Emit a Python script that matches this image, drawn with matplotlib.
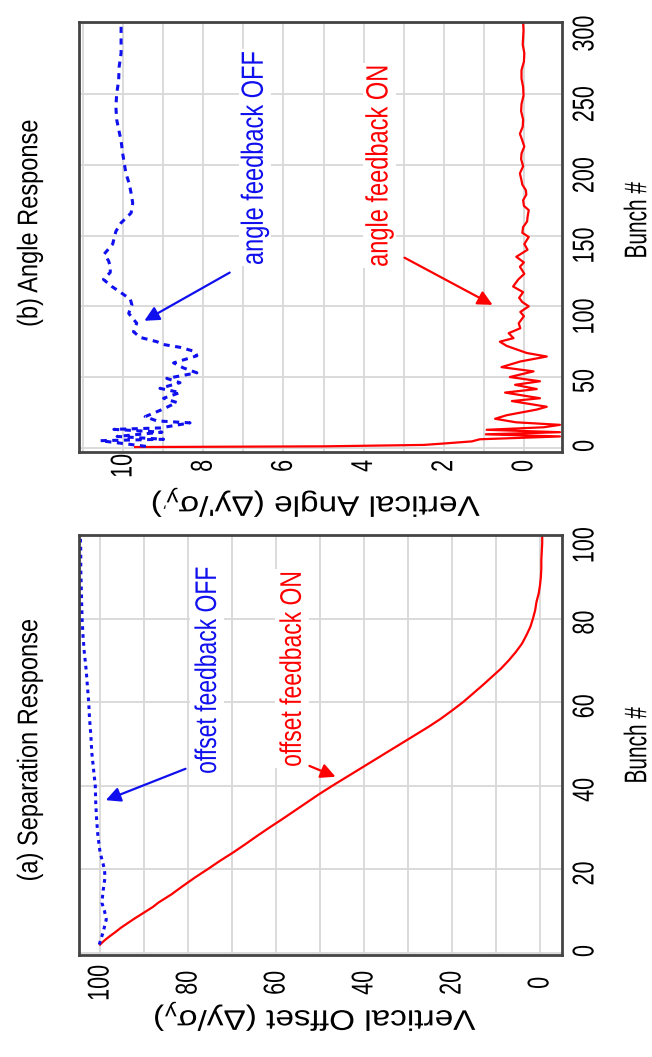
import matplotlib
matplotlib.use("Agg")
import matplotlib.pyplot as plt
from matplotlib.patheffects import AbstractPathEffect
from matplotlib.transforms import Affine2D

plt.rcParams['font.family'] = ['Liberation Sans', 'DejaVu Sans']

# (a) separation response: bunch number vs vertical offset
a_on_bunch = [2, 3, 4, 5, 6, 8, 10, 11, 12, 14, 16, 18, 20, 22, 24, 26, 28, 30, 32, 34,
              36, 38, 40, 42, 44, 46, 48, 50, 52, 54, 56, 58, 60, 62, 64, 66, 68, 70, 72,
              74, 76, 78, 80, 82, 84, 86, 88, 90, 92, 94, 96, 98, 100]
a_on_val = [100, 99, 97.8, 96.5, 95.3, 92.5, 89.5, 88, 86.8, 83.8, 81.2, 78.5, 75.6, 72.8,
            69.8, 67, 64.3, 61.5, 58.6, 55.8, 53, 50.2, 47.2, 44.1, 41, 37.9, 34.8, 31.7,
            28.6, 25.5, 22.6, 20, 17.5, 15.3, 13.1, 11, 8.9, 7.1, 5.5, 4.1, 3.1, 2.2, 1.6,
            1.1, 0.8, 0.3, 0, -0.2, -0.3, -0.3, -0.4, -0.5, -0.5]

a_off_bunch = [2, 5, 8, 10, 12, 15, 18, 20, 24, 28, 32, 36, 40, 44, 48, 52, 56, 60, 64, 68,
               72, 76, 80, 84, 88, 92, 96, 100]
a_off_val = [100.2, 99.3, 98.6, 99.0, 99.6, 99.3, 98.9, 99.0, 100.0, 100.5, 100.8, 101.0,
             101.1, 101.5, 101.9, 102.1, 102.4, 102.6, 102.9, 103.2, 103.6, 103.9, 104.1,
             104.2, 104.3, 104.4, 104.4, 104.5]

# (b) angle response: bunch number vs vertical angle
b_on_bunch = [0.5, 1, 2, 3, 4.5, 6, 8, 9.5, 11, 12.7, 14.5, 16.2, 18, 20.5, 23, 27, 29, 33,
              35, 39, 41.5, 44.5, 47, 50, 54, 57, 61, 64.5, 67, 72, 75, 77.5, 81, 84.5, 88,
              93, 96, 100, 103, 106, 110, 114, 119, 123, 128, 131, 135, 140, 144, 149, 152,
              156, 160, 163, 168, 171, 175, 179, 182, 186, 189, 194, 199, 204, 208, 213, 218,
              222, 227, 232, 238, 243, 249, 255, 261, 267, 273, 279, 285, 290, 295, 300]
b_on_val = [9.7, 5.0, 2.5, 2.0, 1.3, 1.1, -0.9, 0.95, -0.9, 0.93, -0.5, -0.9, 0.2, 0.72,
            0.43, -0.32, -0.57, 0.3, -0.4, 0.47, -0.32, 0.22, -0.4, 0.35, -0.24, 0.56, 0.09,
            -0.57, -0.07, 0.43, 0.6, 0.26, 0.38, 0.09, 0.13, 0.0, 0.09, -0.12, 0.04, 0.12,
            0.02, 0.27, 0.14, -0.01, 0.1, 0.0, 0.19, -0.09, -0.01, -0.12, 0.04, 0.02, -0.08,
            -0.09, -0.12, 0.0, 0.02, -0.06, -0.05, 0.04, 0.06, 0.1, 0.02, 0.07, 0.06, -0.01,
            0.05, 0.1, 0.03, 0.02, 0.07, 0.06, 0.01, 0.02, 0.06, 0.06, 0.0, -0.01, 0.03, 0.02,
            0.01, 0.02]

b_off_bunch = [1, 5, 6, 8, 11, 13, 14, 17.6, 19, 22, 27, 32, 35, 39, 42, 46, 49, 53, 56.5,
               60, 65, 68, 71, 73, 75, 78, 82, 88, 95, 101, 105, 110, 114, 119, 124, 128, 132,
               137, 144, 153, 159, 166, 173, 180, 187, 194, 201, 208, 217, 225, 232, 241, 250,
               260, 269, 279, 290, 300]
b_off_val = [9.43, 10.57, 8.99, 10.15, 9.03, 10.23, 9.08, 8.33, 9.16, 9.45, 9.03, 8.66, 8.99,
             8.58, 9.08, 8.58, 8.91, 8.16, 8.5, 8.74, 8.16, 8.2, 8.58, 8.99, 9.16, 9.57, 9.74,
             9.66, 9.86, 9.78, 9.82, 10.07, 10.28, 10.49, 10.32, 10.32, 10.36, 10.47, 10.26,
             10.18, 10.05, 9.8, 9.76, 9.8, 9.85, 9.93, 9.97, 10.01, 10.05, 10.11, 10.16, 10.18,
             10.16, 10.11, 10.1, 10.05, 10.05, 10.05]

RED = '#ff0000'
BLUE = '#1010ee'
W, H = 652, 1057


class Tall(AbstractPathEffect):
    """the source picture is squashed, so letters are taller (or flatter) than the font's"""

    def __init__(self, k):
        super().__init__()
        self.k = k

    def draw_path(self, renderer, gc, tpath, affine, rgbFace=None):
        v = tpath.vertices
        if len(v):
            cy = (v[:, 1].min() + v[:, 1].max()) / 2
            affine = Affine2D().translate(0, -cy).scale(1, self.k).translate(0, cy) + affine
        renderer.draw_path(gc, tpath, affine, rgbFace)


fig = plt.figure(figsize=(W / 100, H / 100), dpi=100)


def px_axes(l, t, r, b):
    return fig.add_axes([l / W, 1 - b / H, (r - l) / W, (b - t) / H])


def style(ax, major, minor, bmajor, xpad):
    ax.set_xticks(major)
    ax.set_xticks(minor, minor=True)
    ax.set_yticks(bmajor)
    ax.yaxis.tick_right()
    ax.tick_params(axis='both', which='both', length=0, labelsize=15.5, labelrotation=90)
    ax.tick_params(axis='x', pad=xpad)
    ax.tick_params(axis='y', pad=9)
    ax.grid(True, which='both', axis='x', color='#d8d8d8', lw=1.3)
    ax.grid(True, which='major', axis='y', color='#d8d8d8', lw=1.3)
    ax.set_axisbelow(True)
    for s in ax.spines.values():
        s.set_color('#444444')
        s.set_linewidth(2)


tbox = dict(facecolor='white', edgecolor='none', pad=1)

# ---- panel (a)
ax_a = px_axes(79, 535, 562, 955)
ax_a.plot(a_on_val, a_on_bunch, color=RED, lw=1.6)
ax_a.plot(a_off_val, a_off_bunch, color=BLUE, lw=2.2, ls=(0, (1.2, 1.4)))
ax_a.set_xlim(104.8, -5)
ax_a.set_ylim(-0.5, 100)
style(ax_a, [0, 20, 40, 60, 80, 100], [10, 30, 50, 70, 90], [0, 20, 40, 60, 80, 100], 20)

ax_a.text(75.7, 67.7, 'offset feedback OFF', color=BLUE, fontsize=16.5, rotation=90,
          ha='center', va='center', bbox=tbox)
ax_a.text(56.4, 68, 'offset feedback ON', color=RED, fontsize=16.5, rotation=90,
          ha='center', va='center', bbox=tbox)
ax_a.annotate('', xy=(99.3, 36.3), xytext=(80, 44.3),
              arrowprops=dict(arrowstyle='-|>', color=BLUE, lw=1.6, mutation_scale=22))
ax_a.annotate('', xy=(45.9, 41.9), xytext=(53, 45),
              arrowprops=dict(arrowstyle='-|>', color=RED, lw=1.6, mutation_scale=22))

# ---- panel (b)
ax_b = px_axes(79, 22, 562, 452)
ax_b.plot(b_on_val, b_on_bunch, color=RED, lw=1.6)
ax_b.plot(b_off_val, b_off_bunch, color=BLUE, lw=2.2, ls=(0, (2.0, 1.8)))
ax_b.set_xlim(11.1, -0.95)
ax_b.set_ylim(-3, 301)
style(ax_b, [0, 2, 4, 6, 8, 10], [1, 3, 5, 7, 9, 11], [0, 50, 100, 150, 200, 250, 300], 10)

ax_b.text(6.71, 205, 'angle feedback OFF', color=BLUE, fontsize=17, rotation=90,
          ha='center', va='center', bbox=tbox)
ax_b.text(3.6, 199.5, 'angle feedback ON', color=RED, fontsize=17, rotation=90,
          ha='center', va='center', bbox=tbox)
ax_b.annotate('', xy=(9.53, 88.8), xytext=(7.28, 124.8),
              arrowprops=dict(arrowstyle='-|>', color=BLUE, lw=1.6, mutation_scale=22))
ax_b.annotate('', xy=(0.72, 100.1), xytext=(3.04, 135.3),
              arrowprops=dict(arrowstyle='-|>', color=RED, lw=1.6, mutation_scale=22))

# ---- titles and axis labels (figure is turned on its side)
titles = [fig.text(30 / W, 1 - 750 / H, '(a) Separation Response', fontsize=17, rotation=90,
                   ha='center', va='center'),
          fig.text(30 / W, 1 - 223 / H, '(b) Angle Response', fontsize=17, rotation=90,
                   ha='center', va='center')]
bunch_labels = [fig.text(637 / W, 1 - 745 / H, 'Bunch #', fontsize=15, rotation=90,
                         ha='center', va='center'),
                fig.text(637 / W, 1 - 220 / H, 'Bunch #', fontsize=15, rotation=90,
                         ha='center', va='center')]
val_labels = [fig.text(314 / W, 1 - 1016 / H, r'Vertical Offset (Δy/$\mathregular{σ_y}$)',
                       fontsize=24, rotation=180, ha='center', va='center'),
              fig.text(315 / W, 1 - 502 / H, r"Vertical Angle (Δy'/$\mathregular{σ_{y'}}$)",
                       fontsize=24, rotation=180, ha='center', va='center')]

fig.canvas.draw()
for ax in (ax_a, ax_b):
    for lab in ax.get_xticklabels():
        lab.set_va('center')
        lab.set_path_effects([Tall(1.4)])
    for lab in ax.get_yticklabels():
        lab.set_path_effects([Tall(1.4)])
    for t in ax.texts:
        t.set_path_effects([Tall(1.3)])
        if t.get_bbox_patch() is not None:
            t.get_bbox_patch().set_path_effects([Tall(1.3)])
for t in titles:
    t.set_path_effects([Tall(1.2)])
for t in bunch_labels:
    t.set_path_effects([Tall(1.5)])
for t in val_labels:
    t.set_path_effects([Tall(0.85)])

fig.savefig('out.png', dpi=100)
